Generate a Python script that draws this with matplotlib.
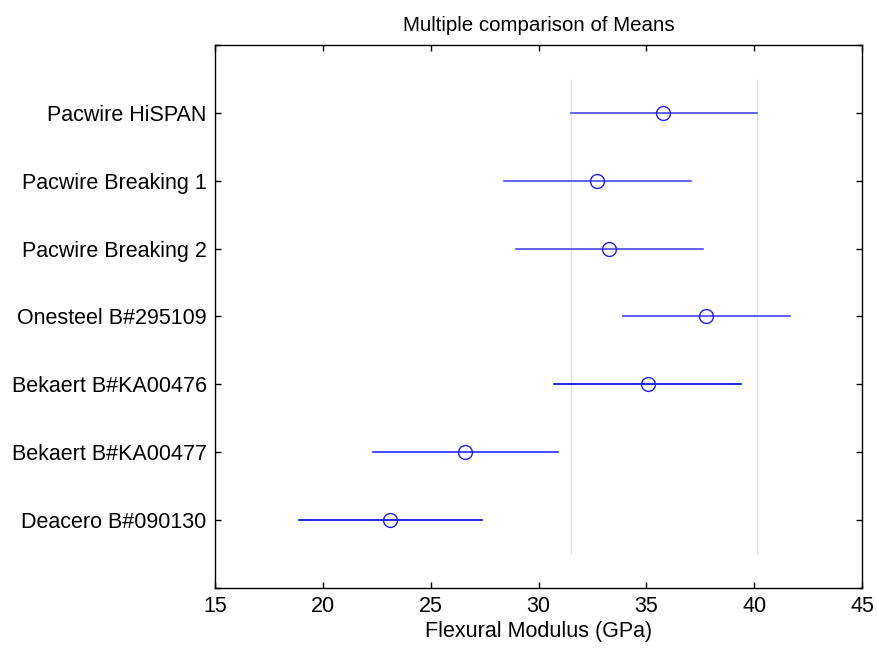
import matplotlib.pyplot as plt

plt.rcParams['font.family'] = ['Liberation Sans', 'DejaVu Sans']

groups = ["Pacwire HiSPAN", "Pacwire Breaking 1", "Pacwire Breaking 2",
          "Onesteel B#295109", "Bekaert B#KA00476", "Bekaert B#KA00477",
          "Deacero B#090130"]
means = [35.77, 32.71, 33.27, 37.76, 35.07, 26.59, 23.12]
lower = [31.50, 28.40, 28.95, 33.91, 30.72, 22.33, 18.90]
upper = [40.13, 37.07, 37.62, 41.66, 39.39, 30.90, 27.40]
line_colors = ["#4646ff", "#4646ff", "#4646ff", "#4646ff", "#0000e6", "#2a2aff", "#0000e6"]

# comparison interval of the selected group (first one)
ref_lo, ref_hi = lower[0], upper[0]

fig = plt.figure(figsize=(8.77, 6.5), dpi=100)
ax = fig.add_axes([0.2452, 0.0954, 0.7377, 0.8354])

n = len(groups)
ypos = list(range(n, 0, -1))

ax.vlines([ref_lo, ref_hi], 0.5, n + 0.5, color="#e3e3e3", linewidth=1.0, zorder=1)

for y, m, lo, hi, c in zip(ypos, means, lower, upper, line_colors):
    ax.plot([lo, hi], [y, y], color=c, linewidth=1.2, zorder=2)
    ax.plot(m, y, marker="o", markersize=10, markerfacecolor="none",
            markeredgecolor="#1f1fff", markeredgewidth=1.0, zorder=3)

ax.set_xlim(15, 45)
ax.set_ylim(0, n + 1)
ax.set_xticks(range(15, 46, 5))
ax.set_yticks(range(0, n + 2))
ax.set_yticklabels([""] + groups[::-1] + [""])

ax.tick_params(direction="in", length=4, width=1, top=True, right=True,
               labelsize=15.5, pad=6)
for s in ax.spines.values():
    s.set_linewidth(1.0)

ax.set_title("Multiple comparison of Means", fontsize=14.8, pad=10)
ax.set_xlabel("Flexural Modulus (GPa)", fontsize=15.5, labelpad=3)

fig.savefig("out.png", dpi=100)
